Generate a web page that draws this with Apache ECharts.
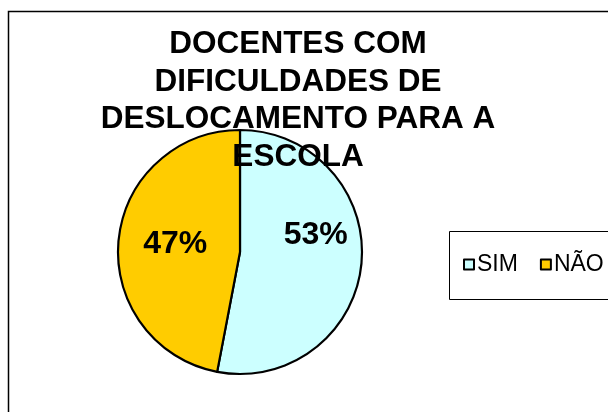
<!DOCTYPE html>
<html>
<head>
<meta charset="utf-8">
<script src="https://cdn.jsdelivr.net/npm/echarts@6/dist/echarts.min.js"></script>
<style>
html,body{margin:0;padding:0;background:#fff;}
#c{width:608px;height:412px;}
</style>
</head>
<body>
<div id="c"></div>
<script>
const titleLines = ['DOCENTES COM', 'DIFICULDADES DE', 'DESLOCAMENTO PARA A', 'ESCOLA'];
const categories = ['SIM', 'NÃO'];
const values = [53, 47];

const sliceColors = ['#CCFFFF', '#FFCC00'];
const labelShift = [[12, -23], [-1, -2]];
const FONT = '"Liberation Sans", Arial, sans-serif';

const chart = echarts.init(document.getElementById('c'), null, {renderer: 'canvas'});
chart.setOption({
  backgroundColor: '#fff',
  animation: false,
  title: {
    text: titleLines.join('\n'),
    left: 298,
    top: 26,
    textAlign: 'center',
    padding: 0,
    textStyle: {fontFamily: FONT, fontSize: 31.5, fontWeight: 'bold', color: '#000', lineHeight: 37.5}
  },
  legend: {
    data: categories,
    left: 463,
    top: 253,
    padding: 0,
    itemGap: 22,
    itemWidth: 10,
    itemHeight: 10,
    icon: 'rect',
    textStyle: {fontFamily: FONT, fontSize: 23, color: '#000', padding: [0, 0, 0, -2]}
  },
  graphic: [
    {type: 'rect', shape: {x: 8.5, y: 11.5, width: 700, height: 500}, style: {fill: 'none', stroke: '#000', lineWidth: 1.5}, z: -10},
    {type: 'rect', shape: {x: 449.5, y: 231.5, width: 200, height: 68}, style: {fill: '#fff', stroke: '#000', lineWidth: 1}, z: -5}
  ],
  series: [{
    type: 'pie',
    center: [240, 252],
    radius: 122,
    startAngle: 90,
    clockwise: true,
    silent: true,
    itemStyle: {borderColor: '#000', borderWidth: 2.2},
    label: {
      show: true,
      position: 'inside',
      fontFamily: FONT,
      fontSize: 32,
      fontWeight: 'bold',
      color: '#000',
      formatter: p => Math.round(p.percent) + '%'
    },
    labelLine: {show: false},
    labelLayout: p => ({dx: labelShift[p.dataIndex][0], dy: labelShift[p.dataIndex][1]}),
    data: categories.map((c, i) => ({name: c, value: values[i], itemStyle: {color: sliceColors[i]}}))
  }]
});
</script>
</body>
</html>
